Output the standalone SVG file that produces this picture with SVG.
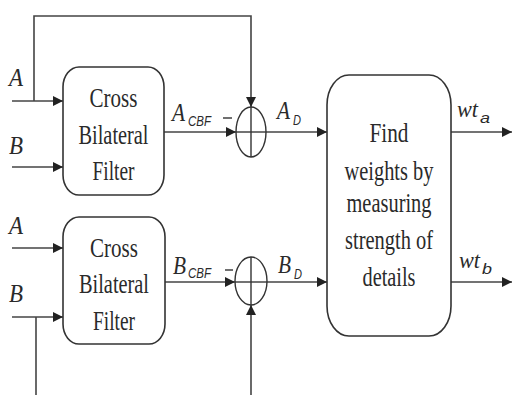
<svg xmlns="http://www.w3.org/2000/svg" width="513" height="395" viewBox="0 0 513 395">
  <defs>
    <marker id="arr" viewBox="0 0 10 10" refX="10" refY="5" markerWidth="10" markerHeight="11" markerUnits="userSpaceOnUse" orient="auto">
      <path d="M0,0 L10,5 L0,10 Z" fill="#222"/>
    </marker>
    <style>
      .box { fill: #fff; stroke: #333; stroke-width: 1.6; }
      .ln { fill: none; stroke: #444; stroke-width: 1.6; }
      .sum { fill: none; stroke: #333; stroke-width: 1.4; }
      .t { font-family: "Liberation Serif", "Times New Roman", serif; font-size: 28px; fill: #2a2a2a; text-anchor: middle; }
      .v { font-family: "Liberation Serif", "Times New Roman", serif; font-style: italic; font-size: 26px; fill: #2a2a2a; }
      .s { font-family: "Liberation Sans", Arial, sans-serif; font-style: italic; font-size: 14px; fill: #2a2a2a; }
    </style>
  </defs>

  <rect width="513" height="395" fill="#fff"/>

  <!-- connectors -->
  <g id="connectors">
    <!-- feedback of A over the top -->
    <polyline class="ln" points="34,101 34,16 251,16 251,107" marker-end="url(#arr)"/>
    <!-- inputs to the upper filter -->
    <line class="ln" x1="12" y1="101" x2="63" y2="101" marker-end="url(#arr)"/>
    <line class="ln" x1="12" y1="167" x2="63" y2="167" marker-end="url(#arr)"/>
    <!-- upper filter output to summer -->
    <line class="ln" x1="164" y1="132" x2="236" y2="132" marker-end="url(#arr)"/>
    <!-- A_D to weight block -->
    <line class="ln" x1="236" y1="132" x2="327" y2="132" marker-end="url(#arr)"/>
    <!-- inputs to the lower filter -->
    <line class="ln" x1="12" y1="248" x2="63" y2="248" marker-end="url(#arr)"/>
    <line class="ln" x1="12" y1="317" x2="63" y2="317" marker-end="url(#arr)"/>
    <!-- feedback of B from below -->
    <polyline class="ln" points="36,317 36,395"/>
    <line class="ln" x1="251" y1="395" x2="251" y2="305" marker-end="url(#arr)"/>
    <!-- lower filter output to summer -->
    <line class="ln" x1="165" y1="282" x2="235" y2="282" marker-end="url(#arr)"/>
    <!-- B_D to weight block -->
    <line class="ln" x1="235" y1="282" x2="327" y2="282" marker-end="url(#arr)"/>
    <!-- weight outputs -->
    <line class="ln" x1="451" y1="132" x2="512" y2="132" marker-end="url(#arr)"/>
    <line class="ln" x1="451" y1="282" x2="512" y2="282" marker-end="url(#arr)"/>
  </g>

  <!-- input labels -->
  <g id="inputs">
    <text class="v" x="9" y="86" textLength="14" lengthAdjust="spacingAndGlyphs">A</text>
    <text class="v" x="9" y="154" textLength="14" lengthAdjust="spacingAndGlyphs">B</text>
    <text class="v" x="9" y="234" textLength="14" lengthAdjust="spacingAndGlyphs">A</text>
    <text class="v" x="9" y="302" textLength="14" lengthAdjust="spacingAndGlyphs">B</text>
  </g>

  <!-- upper cross bilateral filter -->
  <g id="cbf-a">
    <rect class="box" x="63" y="67" width="101" height="128" rx="16" ry="20"/>
    <text class="t" x="113.5" y="107" textLength="48" lengthAdjust="spacingAndGlyphs">Cross</text>
    <text class="t" x="113.5" y="144" textLength="70" lengthAdjust="spacingAndGlyphs">Bilateral</text>
    <text class="t" x="113.5" y="180" textLength="42" lengthAdjust="spacingAndGlyphs">Filter</text>
  </g>

  <!-- lower cross bilateral filter -->
  <g id="cbf-b">
    <rect class="box" x="63" y="217" width="102" height="127" rx="16" ry="20"/>
    <text class="t" x="114" y="257" textLength="48" lengthAdjust="spacingAndGlyphs">Cross</text>
    <text class="t" x="114" y="293" textLength="70" lengthAdjust="spacingAndGlyphs">Bilateral</text>
    <text class="t" x="114" y="330" textLength="42" lengthAdjust="spacingAndGlyphs">Filter</text>
  </g>

  <!-- upper summing junction -->
  <g id="sum-a">
    <ellipse class="sum" cx="251" cy="132" rx="15" ry="25"/>
    <line class="sum" x1="251" y1="107" x2="251" y2="157"/>
    <line class="sum" x1="223" y1="118" x2="232" y2="118"/>
    <text class="v" x="172" y="121" textLength="13" lengthAdjust="spacingAndGlyphs">A</text>
    <text class="s" x="188" y="126" textLength="23" lengthAdjust="spacingAndGlyphs">CBF</text>
    <text class="v" x="277" y="119" textLength="13" lengthAdjust="spacingAndGlyphs">A</text>
    <text class="s" x="293" y="125" textLength="8" lengthAdjust="spacingAndGlyphs">D</text>
  </g>

  <!-- lower summing junction -->
  <g id="sum-b">
    <ellipse class="sum" cx="251" cy="281" rx="16" ry="24"/>
    <line class="sum" x1="251" y1="257" x2="251" y2="305"/>
    <line class="sum" x1="225" y1="270" x2="233" y2="270"/>
    <text class="v" x="173" y="274" textLength="13" lengthAdjust="spacingAndGlyphs">B</text>
    <text class="s" x="188" y="278" textLength="23" lengthAdjust="spacingAndGlyphs">CBF</text>
    <text class="v" x="278" y="273" textLength="13" lengthAdjust="spacingAndGlyphs">B</text>
    <text class="s" x="294" y="279" textLength="8" lengthAdjust="spacingAndGlyphs">D</text>
  </g>

  <!-- weight estimation block -->
  <g id="weights">
    <rect class="box" x="327" y="75" width="124" height="261" rx="22" ry="30"/>
    <text class="t" x="389" y="142" textLength="39" lengthAdjust="spacingAndGlyphs">Find</text>
    <text class="t" x="389" y="180" textLength="89" lengthAdjust="spacingAndGlyphs">weights by</text>
    <text class="t" x="389" y="212" textLength="85" lengthAdjust="spacingAndGlyphs">measuring</text>
    <text class="t" x="389" y="249" textLength="88" lengthAdjust="spacingAndGlyphs">strength of</text>
    <text class="t" x="389" y="286" textLength="53" lengthAdjust="spacingAndGlyphs">details</text>
  </g>

  <!-- output labels -->
  <g id="outputs">
    <text class="v" x="457" y="117" textLength="21" lengthAdjust="spacingAndGlyphs" style="font-size:24px">wt</text>
    <text class="s" x="480" y="123" textLength="10" lengthAdjust="spacingAndGlyphs" style="font-size:15px">a</text>
    <text class="v" x="459" y="268" textLength="21" lengthAdjust="spacingAndGlyphs" style="font-size:24px">wt</text>
    <text class="s" x="482" y="274" textLength="10" lengthAdjust="spacingAndGlyphs" style="font-size:15px">b</text>
  </g>
</svg>
